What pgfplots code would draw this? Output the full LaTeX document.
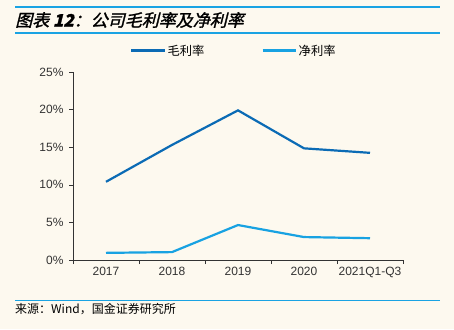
\documentclass[border=0pt]{standalone}
\usepackage{pgfplots}
\pgfplotsset{compat=1.18}
\usepackage{fontspec}
\setmainfont{Liberation Sans}
\newfontfamily\cjk{Noto Sans CJK SC}
\newfontfamily\cjktitle[FakeSlant=0.25,FakeBold=1.5]{Noto Sans CJK SC}
\definecolor{bg}{HTML}{FDF9EF}
\definecolor{rule}{HTML}{1AA3E3}
\definecolor{gross}{HTML}{0B6BB5}
\definecolor{net}{HTML}{18A2E2}
\definecolor{axisc}{HTML}{333333}
\begin{document}
\begin{tikzpicture}[x=1pt,y=1pt]
\fill[bg] (0,0) rectangle (454,-329);
\draw[rule,line width=1.2pt] (15,-7) -- (440,-7);
\draw[rule,line width=1.2pt] (15,-33) -- (440,-33);
\node[anchor=west,inner sep=0pt] at (15,-20) {\cjktitle\fontsize{17}{18}\selectfont 图表\ \textbf{\textit{12}}：公司毛利率及净利率};
\draw[rule,line width=1pt] (15,-300) -- (440,-300);
\node[anchor=west,inner sep=0pt] at (15,-309) {\cjk\fontsize{12}{12}\selectfont 来源：Wind，国金证券研究所};
\begin{axis}[
  at={(73pt,-260pt)}, anchor=south west,
  scale only axis, width=330pt, height=188pt,
  xmin=-0.5, xmax=4.5, ymin=0, ymax=25,
  axis lines*=left,
  axis line style={axisc, line width=0.8pt},
  xtick={-0.5,0.5,1.5,2.5,3.5,4.5},
  xticklabels={},
  extra x ticks={0,1,2,3,4},
  extra x tick labels={2017,2018,2019,2020,2021Q1-Q3},
  extra x tick style={major tick length=0pt, xticklabel style={yshift=-4pt}},
  x tick style={axisc,line width=0.6pt},
  ytick={0,5,10,15,20,25},
  yticklabel={\pgfmathprintnumber{\tick}\%},
  y tick style={axisc,line width=0.6pt},
  tick align=outside, major tick length=4pt,
  ticklabel style={font=\fontsize{12}{12}\selectfont, text=axisc},
  /pgf/number format/assume math mode=true,
  yticklabel style={xshift=-2pt},
  legend style={at={(0.5,1.06)}, anchor=south, xshift=-4pt, draw=none, fill=none,
    legend columns=2, font=\cjk\fontsize{12.3}{12}\selectfont,
    /tikz/every even column/.append style={column sep=55pt}},
  legend image code/.code={\draw[#1, line width=2.2pt] (0pt,0pt) -- (33pt,0pt);},
]
\addplot[gross, line width=2.2pt] coordinates {(0,10.4) (1,15.3) (2,19.9) (3,14.85) (4,14.25)};
\addlegendentry{毛利率}
\addplot[net, line width=2.2pt] coordinates {(0,0.95) (1,1.05) (2,4.65) (3,3.05) (4,2.9)};
\addlegendentry{净利率}
\end{axis}
\end{tikzpicture}
\end{document}
